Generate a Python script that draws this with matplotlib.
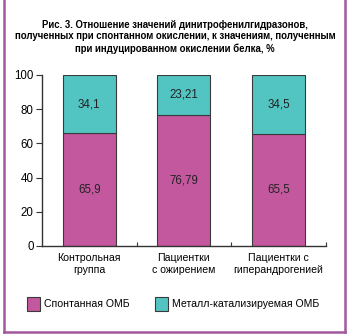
import numpy as np
import matplotlib.pyplot as plt
from matplotlib.patches import Rectangle
from matplotlib.lines import Line2D

plt.rcParams['font.family'] = ['Liberation Sans', 'DejaVu Sans']

groups = ['Контрольная\nгруппа', 'Пациентки\nс ожирением', 'Пациентки с\nгиперандрогенией']
spont = [65.9, 76.79, 65.5]
metal = [34.1, 23.21, 34.5]
spont_lbl = ['65,9', '76,79', '65,5']
metal_lbl = ['34,1', '23,21', '34,5']
series_names = ['Спонтанная ОМБ', 'Металл-катализируемая ОМБ']
yticks = [0, 20, 40, 60, 80, 100]

c_spont = '#c4589f'
c_metal = '#52c5c2'
c_frame = '#a3579c'

fig = plt.figure(figsize=(3.5, 3.36), dpi=100)
ax = fig.add_axes([0.12, 0.268, 0.811, 0.509])

x = np.arange(len(groups))
b1 = ax.bar(x, spont, width=0.56, color=c_spont, edgecolor='#3a3a3a', linewidth=0.8)
b2 = ax.bar(x, metal, width=0.56, bottom=spont, color=c_metal, edgecolor='#3a3a3a', linewidth=0.8)

for i in range(len(x)):
    ax.text(x[i], spont[i] / 2, spont_lbl[i], ha='center', va='center', fontsize=8.3, color='#222222')
    ax.text(x[i], spont[i] + metal[i] / 2, metal_lbl[i], ha='center', va='center', fontsize=8.3, color='#222222')

ax.set_xlim(-0.5, 2.5)
ax.set_ylim(0, 100)
ax.set_yticks(yticks)
ax.set_xticks(x)
ax.set_xticklabels(groups, fontsize=7.6, linespacing=1.3)
ax.set_xticks([0.5, 1.5, 2.5], minor=True)
ax.tick_params(axis='x', which='major', length=0, pad=5)
ax.tick_params(axis='x', which='minor', direction='in', length=3, width=0.8, color='#333333')
ax.tick_params(axis='y', length=4, width=0.8, labelsize=8.3, pad=2, color='#333333')
for side in ['top', 'right']:
    ax.spines[side].set_visible(False)
for side in ['left', 'bottom']:
    ax.spines[side].set_linewidth(1.0)
    ax.spines[side].set_color('#333333')

fig.text(0.5, 0.891, 'Рис. 3. Отношение значений динитрофенилгидразонов,\n'
         'полученных при спонтанном окислении, к значениям, полученным\n'
         'при индуцированном окислении белка, %',
         ha='center', va='center', fontsize=6.9, fontweight='bold',
         family=['Liberation Sans Narrow', 'Liberation Sans'], linespacing=1.2)

# legend drawn by hand in figure coords
leg_items = [(0.078, c_spont, series_names[0]), (0.443, c_metal, series_names[1])]
for lx, col, name in leg_items:
    fig.add_artist(Rectangle((lx, 0.073), 0.036, 0.044, transform=fig.transFigure,
                             facecolor=col, edgecolor='#3a3a3a', linewidth=0.8))
    fig.text(lx + 0.048, 0.095, name, ha='left', va='center', fontsize=7.6)

# purple frame: left, right and bottom sides
fig.add_artist(Line2D([0.011, 0.011], [0.012, 1.0], transform=fig.transFigure, color=c_frame, lw=1.8))
fig.add_artist(Line2D([0.986, 0.986], [0.012, 1.0], transform=fig.transFigure, color=c_frame, lw=1.8))
fig.add_artist(Line2D([0.011, 0.986], [0.012, 0.012], transform=fig.transFigure, color=c_frame, lw=1.8))

fig.savefig('out.png', dpi=100)
